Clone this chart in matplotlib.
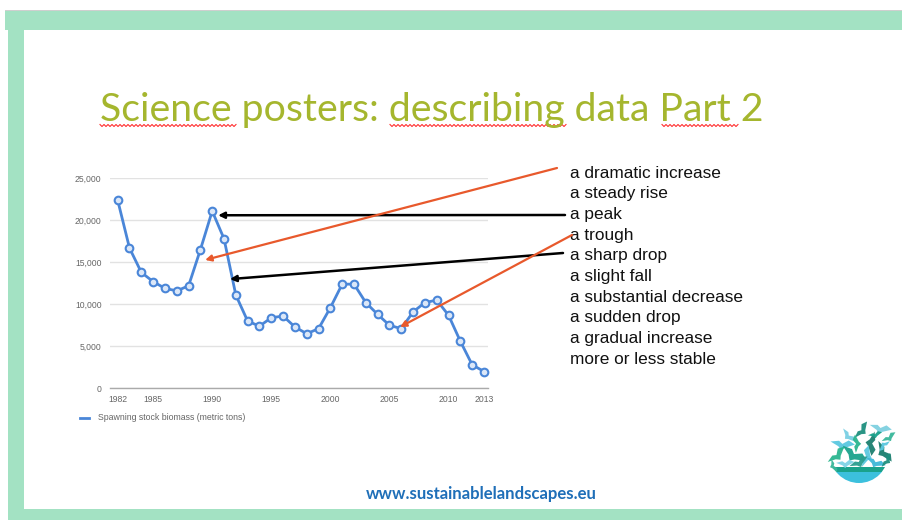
import numpy as np
import matplotlib
matplotlib.use("Agg")
import matplotlib.pyplot as plt
from matplotlib.patches import Rectangle, Circle, Polygon

# data
years = list(range(1982, 2014))
biomass = [22400, 16700, 13800, 12700, 11900, 11600, 12200, 16500,
           21100, 17800, 11100, 8000, 7400, 8400, 8600, 7300,
           6500, 7100, 9600, 12400, 12400, 10200, 8800, 7500,
           7100, 9100, 10200, 10500, 8700, 5600, 2800, 2000]
x_ticks = [1982, 1985, 1990, 1995, 2000, 2005, 2010, 2013]
y_ticks = [0, 5000, 10000, 15000, 20000, 25000]
phrases = ["a dramatic increase", "a steady rise", "a peak", "a trough",
           "a sharp drop", "a slight fall", "a substantial decrease",
           "a sudden drop", "a gradual increase", "more or less stable"]
title = "Science posters: describing data Part 2"
series_name = "Spawning stock biomass (metric tons)"
url = "www.sustainablelandscapes.eu"

W, H = 903, 520
GREEN = "#a3e2c3"
BLUE = "#4a86d8"
ORANGE = "#e8592c"

fig = plt.figure(figsize=(W / 100, H / 100), dpi=100)

# overlay in pixel coords (y down) for the slide decoration
deco = fig.add_axes([0, 0, 1, 1])
deco.set_xlim(0, W)
deco.set_ylim(H, 0)
deco.axis("off")

deco.add_patch(Rectangle((5, 9.5), W, 1.5, color="#cfcfcf", lw=0))
deco.add_patch(Rectangle((5, 11), W, 19, color=GREEN, lw=0))
deco.add_patch(Rectangle((8, 11), 16, H, color=GREEN, lw=0))
deco.add_patch(Rectangle((8, 509), W, 12, color=GREEN, lw=0))

deco.text(100, 121, title, fontsize=28.3, color="#a5b62e",
          family="Lato", va="baseline", ha="left")

# spell-check squiggles
for x0, x1 in [(100, 236), (390, 567), (662, 738)]:
    xs = np.arange(x0, x1 + 0.1, 2.0)
    ys = 125.5 + np.where(np.arange(len(xs)) % 2 == 0, -1.0, 1.0)
    deco.plot(xs, ys, color="#ff3030", lw=0.8)

for i, p in enumerate(phrases):
    deco.text(570, 173 + i * 20.7, p, fontsize=12.4, family="Liberation Sans",
              color="#111111", va="center", ha="left")

deco.text(481, 494, url, fontsize=12.1, family="Lato", weight="bold",
          color="#1f6fb8", ha="center", va="center")

# logo: flock of birds over a bowl of water
water = Circle((859, 454), 29, color="#3cc0dd", lw=0)
deco.add_patch(water)
water.set_clip_path(Rectangle((820, 472), 80, 20, transform=deco.transData))
wave = Circle((859, 454), 29, color="#1aa28c", lw=0)
deco.add_patch(wave)
wave.set_clip_path(Rectangle((820, 467), 80, 5, transform=deco.transData))

bird_shape = np.array([(-1.0, 0.05), (-0.35, -0.25), (0.0, -0.1), (0.4, -0.55),
                       (1.0, -0.4), (0.3, 0.15), (0.1, 0.45), (-0.25, 0.2)])
birds = [(842, 445, 12, 20, "#5bc8e0"), (862, 431, 10, -40, "#1e8f7e"),
         (880, 429, 11, 25, "#7fd0e0"), (889, 438, 8, -20, "#39b79a"),
         (848, 436, 9, 60, "#79cfe3"), (871, 443, 12, 110, "#1b7f6f"),
         (837, 456, 11, -30, "#2bb58f"), (853, 455, 14, 45, "#1aa28c"),
         (867, 457, 11, -60, "#5bc8e0"), (883, 452, 12, 70, "#1b7f6f"),
         (845, 464, 9, 10, "#7fd3e6"), (859, 463, 10, -15, "#2a9d8f"),
         (875, 463, 10, 35, "#3db8d8"), (887, 461, 8, -45, "#1e8f7e"),
         (833, 466, 7, 80, "#39b79a"), (857, 444, 9, -80, "#2bb58f"),
         (875, 435, 7, 0, "#1aa28c"), (884, 445, 7, 150, "#5bc8e0")]
for bx, by, size, ang, c in birds:
    t = np.deg2rad(ang)
    rot = np.array([[np.cos(t), -np.sin(t)], [np.sin(t), np.cos(t)]])
    pts = bird_shape @ rot.T * size + [bx, by]
    deco.add_patch(Polygon(pts, closed=True, color=c, lw=0, alpha=0.95))

# chart
ax = fig.add_axes([110 / W, (H - 388.3) / H, 378 / W, 210 / H])
ax.set_xlim(1981.35, 2013.34)
ax.set_ylim(0, 25000)
ax.plot(years, biomass, color=BLUE, lw=2, marker="o", ms=5.5,
        mfc="#dbe7f8", mec=BLUE, mew=1.5, clip_on=False, zorder=3)
ax.set_xticks(x_ticks)
ax.set_yticks(y_ticks)
ax.set_yticklabels([f"{v:,}" for v in y_ticks])
ax.tick_params(length=0, labelsize=6.2, colors="#666666", pad=6)
ax.tick_params(axis="x", pad=5)
for lab in ax.get_xticklabels() + ax.get_yticklabels():
    lab.set_family("Liberation Sans")
ax.grid(axis="y", color="#e2e2e2", lw=1)
ax.set_axisbelow(True)
for s in ["top", "right", "left"]:
    ax.spines[s].set_visible(False)
ax.spines["bottom"].set_color("#aaaaaa")
ax.spines["bottom"].set_linewidth(1)
ax.patch.set_alpha(0)

deco.plot([80, 89], [418, 418], color=BLUE, lw=2)
deco.text(98, 418, series_name, fontsize=6.3, family="Liberation Sans",
          color="#666666", va="center", ha="left")

# arrows from the phrase list to the curve
arrows = [((1990.5, 20600), (565, 215), "black", 1.8),
          ((1991.5, 13000), (563, 253), "black", 1.8),
          ((1989.4, 15280), (557, 168), ORANGE, 1.6),
          ((2005.9, 7300), (572, 235), ORANGE, 1.6)]
for xy, (tx, ty), c, lw in arrows:
    ax.annotate("", xy=xy, xycoords="data", xytext=(tx, H - ty),
                textcoords="figure pixels", annotation_clip=False,
                arrowprops=dict(arrowstyle="-|>", color=c, lw=lw,
                                mutation_scale=9, shrinkA=0, shrinkB=0))

fig.savefig("out.png", dpi=100)
